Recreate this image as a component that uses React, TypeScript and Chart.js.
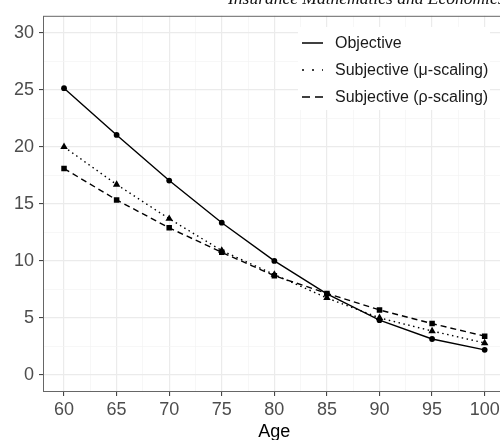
import React, { useEffect, useRef } from 'react';
import { Chart, registerables } from 'chart.js';
Chart.register(...registerables);

const ages = [60, 65, 70, 75, 80, 85, 90, 95, 100];
const objective = [25.15, 21.05, 17.05, 13.35, 10.0, 7.1, 4.8, 3.15, 2.2];
const muScaling = [20.0, 16.7, 13.7, 10.9, 8.8, 6.75, 5.0, 3.85, 2.8];
const rhoScaling = [18.1, 15.35, 12.9, 10.75, 8.7, 7.15, 5.7, 4.5, 3.4];
const xTicks = [60, 65, 70, 75, 80, 85, 90, 95, 100];
const yTicks = [0, 5, 10, 15, 20, 25, 30];
const seriesNames = ['Objective', 'Subjective (\u03bc-scaling)', 'Subjective (\u03c1-scaling)'];
const xTitle = 'Age';
const headerText = 'Insurance Mathematics and Economics';

const FONT = "'Liberation Sans', Arial, sans-serif";

function withMinor(major: number[]): number[] {
  const out: number[] = [];
  for (let i = 0; i < major.length; i++) {
    out.push(major[i]);
    if (i < major.length - 1) out.push((major[i] + major[i + 1]) / 2);
  }
  return out;
}

const dashes: number[][] = [[], [1.5, 3.5], [6, 4]];
const legendDashes: number[][] = [[], [2, 8], [8, 5]];

const panelPlugin = {
  id: 'panel',
  afterDatasetsDraw(chart: any) {
    const { ctx, chartArea: a } = chart;
    ctx.save();
    // legend box
    ctx.fillStyle = '#ffffff';
    ctx.fillRect(298, 27, 192, 83);
    const rows = [43, 70, 97];
    seriesNames.forEach((name, i) => {
      ctx.strokeStyle = '#000';
      ctx.lineWidth = 1.5;
      ctx.setLineDash(legendDashes[i]);
      ctx.beginPath();
      ctx.moveTo(302, rows[i]);
      ctx.lineTo(323, rows[i]);
      ctx.stroke();
      ctx.setLineDash([]);
      ctx.fillStyle = '#1a1a1a';
      ctx.font = `16px ${FONT}`;
      ctx.textAlign = 'left';
      ctx.textBaseline = 'middle';
      ctx.fillText(name, 335, rows[i] + 1);
    });
    // panel border
    ctx.strokeStyle = '#666';
    ctx.lineWidth = 1;
    ctx.strokeRect(a.left + 0.5, a.top + 0.5, a.right - a.left - 1, a.bottom - a.top - 1);
    ctx.restore();
  },
};

export default function App() {
  const ref = useRef<HTMLCanvasElement>(null);
  useEffect(() => {
    if (!ref.current) return;
    const mk = (vals: number[]) => ages.map((x, i) => ({ x, y: vals[i] }));
    const styles = ['circle', 'triangle', 'rect'];
    const radii = [2.9, 4.3, 3.9];
    const chart = new Chart(ref.current, {
      type: 'line',
      data: {
        datasets: [objective, muScaling, rhoScaling].map((vals, i) => ({
          label: seriesNames[i],
          data: mk(vals),
          borderColor: '#000',
          backgroundColor: '#000',
          borderWidth: 1.4,
          borderDash: dashes[i],
          pointStyle: styles[i] as any,
          pointRadius: radii[i],
          pointBorderWidth: 0,
          pointBackgroundColor: '#000',
          tension: 0,
        })),
      },
      options: {
        responsive: false,
        animation: false,
        devicePixelRatio: 1,
        layout: { padding: { top: 13, right: 2, left: 0, bottom: 0 } },
        plugins: { legend: { display: false }, tooltip: { enabled: false } },
        scales: {
          x: {
            type: 'linear',
            min: 58,
            max: 102,
            afterBuildTicks: (s: any) => {
              s.ticks = withMinor(xTicks).map((v) => ({ value: v }));
            },
            afterFit: (s: any) => {
              s.height = 48;
            },
            ticks: {
              autoSkip: false,
              maxRotation: 0,
              padding: 3,
              color: '#4d4d4d',
              font: { family: FONT, size: 18 },
              callback: (v: any) => (xTicks.includes(Number(v)) ? String(v) : ''),
            },
            grid: {
              color: (c: any) => (xTicks.includes(c.tick?.value) ? '#ebebeb' : '#f3f3f3'),
              lineWidth: (c: any) => (xTicks.includes(c.tick?.value) ? 1.2 : 0.7),
              tickColor: (c: any) => (xTicks.includes(c.tick?.value) ? '#333' : 'rgba(0,0,0,0)'),
              tickLength: 4,
              tickWidth: 1,
            },
            border: { display: false },
            title: {
              display: true,
              text: xTitle,
              color: '#000',
              font: { family: FONT, size: 18 },
              padding: { top: 0, bottom: -3 },
            },
          },
          y: {
            type: 'linear',
            min: -1.5,
            max: 31.5,
            afterBuildTicks: (s: any) => {
              s.ticks = withMinor(yTicks).map((v) => ({ value: v }));
            },
            afterFit: (s: any) => {
              s.width = 43;
            },
            ticks: {
              autoSkip: false,
              padding: 5,
              color: '#4d4d4d',
              font: { family: FONT, size: 18 },
              callback: (v: any) => (yTicks.includes(Number(v)) ? String(v) : ''),
            },
            grid: {
              color: (c: any) => (yTicks.includes(c.tick?.value) ? '#ebebeb' : '#f3f3f3'),
              lineWidth: (c: any) => (yTicks.includes(c.tick?.value) ? 1.2 : 0.7),
              tickColor: (c: any) => (yTicks.includes(c.tick?.value) ? '#333' : 'rgba(0,0,0,0)'),
              tickLength: 4,
              tickWidth: 1,
            },
            border: { display: false },
          },
        },
      },
      plugins: [panelPlugin],
    });
    return () => chart.destroy();
  }, []);

  return (
    <div style={{ position: 'absolute', left: 0, top: 0, width: 500, height: 440, overflow: 'hidden', background: '#fff' }}>
      <canvas ref={ref} width={510} height={440} style={{ display: 'block', width: 510, height: 440 }} />
      <div
        style={{
          position: 'absolute',
          left: 228,
          top: -10,
          fontFamily: "'Liberation Serif', 'DejaVu Serif', serif",
          fontStyle: 'italic',
          fontSize: 17.5,
          lineHeight: '17px',
          whiteSpace: 'nowrap',
          color: '#111',
        }}
      >
        {headerText}
      </div>
    </div>
  );
}
